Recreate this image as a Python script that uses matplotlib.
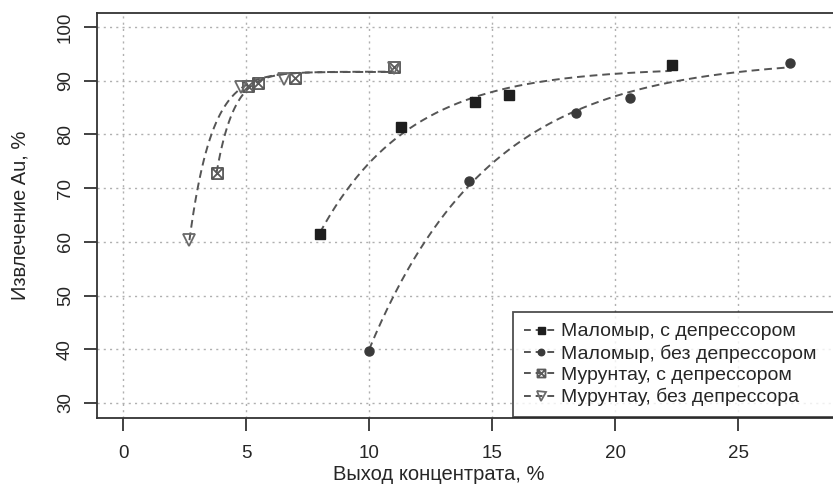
import numpy as np
import matplotlib.pyplot as plt
from matplotlib.path import Path

plt.rcParams['font.family'] = ['Liberation Sans', 'DejaVu Sans']

# данные (выход концентрата, %; извлечение Au, %)
malomyr_dep_x = [8.0, 11.3, 14.3, 15.7, 22.3]
malomyr_dep_y = [61.4, 81.4, 86.0, 87.4, 92.9]
malomyr_nodep_x = [10.0, 14.05, 18.4, 20.6, 27.1]
malomyr_nodep_y = [39.7, 71.3, 84.0, 86.8, 93.3]
muruntau_dep_x = [3.8, 5.1, 5.5, 7.0, 11.0]
muruntau_dep_y = [72.8, 89.0, 89.5, 90.5, 92.5]
muruntau_nodep_x = [2.7, 4.8, 6.55, 11.0]
muruntau_nodep_y = [60.3, 88.8, 90.4, 92.3]

labels = ['Маломыр, с депрессором', 'Маломыр, без депрессором',
          'Мурунтау, с депрессором', 'Мурунтау, без депрессора']


def fit_curve(x, y):
    """подгонка y = a - b*exp(-c*x), возвращает сглаженную кривую"""
    x = np.asarray(x, float)
    y = np.asarray(y, float)
    best = None
    for c in np.linspace(0.02, 3.0, 600):
        A = np.column_stack([np.ones_like(x), -np.exp(-c * x)])
        coef, *_ = np.linalg.lstsq(A, y, rcond=None)
        err = np.sum((A @ coef - y) ** 2)
        if best is None or err < best[0]:
            best = (err, c, coef)
    _, c, (a, b) = best
    xs = np.linspace(x.min(), x.max(), 200)
    return xs, a - b * np.exp(-c * xs)


# квадрат с крестом (как pch=7 в R)
sq_x = Path([(-1, -1), (1, -1), (1, 1), (-1, 1), (-1, -1),
             (-1, -1), (1, 1), (-1, 1), (1, -1)],
            [Path.MOVETO, Path.LINETO, Path.LINETO, Path.LINETO, Path.CLOSEPOLY,
             Path.MOVETO, Path.LINETO, Path.MOVETO, Path.LINETO])

series = [
    (malomyr_dep_x, malomyr_dep_y, dict(marker='s', color='#1e1e1e', mfc='#1e1e1e', ms=7)),
    (malomyr_nodep_x, malomyr_nodep_y, dict(marker='o', color='#3a3a3a', mfc='#3a3a3a', ms=6.5)),
    (muruntau_dep_x, muruntau_dep_y, dict(marker=sq_x, color='#5a5a5a', mfc='none', ms=8, mew=1.3)),
    (muruntau_nodep_x, muruntau_nodep_y, dict(marker='v', color='#6a6a6a', mfc='none', ms=9, mew=1.3)),
]

fig = plt.figure(figsize=(8.33, 4.88), dpi=100)
ax = fig.add_axes([0.1164, 0.1434, 0.8836, 0.83])

line_color = '#555555'
txt_color = '#262626'
handles = []
for (x, y, st), lab in zip(series, labels):
    xs, ys = fit_curve(x, y)
    ax.plot(xs, ys, ls=(0, (4, 2.5)), color=line_color, lw=1.4, zorder=2)
    ax.plot(x, y, ls='none', mec=st['color'], zorder=3,
            **{k: v for k, v in st.items() if k != 'color'})
    h, = ax.plot([], [], ls=(0, (3.5, 2.5)), color=line_color, lw=1.4, mec=st['color'],
                 **{k: v for k, v in st.items() if k not in ('color', 'ms')},
                 ms=st['ms'] * 0.72)
    handles.append(h)

ax.set_xlim(-1.06, 28.86)
ax.set_ylim(27.2, 102.6)
ax.set_xticks([0, 5, 10, 15, 20, 25])
ax.set_yticks(range(30, 101, 10))
ax.grid(True, ls=(0, (1.5, 3)), color='#b0b0b0', lw=1.0)
ax.set_axisbelow(True)

for s in ax.spines.values():
    s.set_color('#333333')
    s.set_linewidth(1.3)
ax.spines['right'].set_visible(False)
ax.tick_params(direction='out', length=9.5, width=1.3, color='#333333',
               labelsize=13.5, labelcolor=txt_color)
ax.tick_params(axis='x', pad=10)
ax.tick_params(axis='y', pad=7)
for lbl in ax.get_yticklabels():
    lbl.set_rotation(90)
    lbl.set_va('center')

ax.set_xlabel('Выход концентрата, %', fontsize=14.5, color=txt_color)
ax.set_ylabel('Извлечение Au, %', fontsize=14.5, color=txt_color)
ax.xaxis.set_label_coords(0.465, -0.116)
ax.yaxis.set_label_coords(-0.092, 0.5)

leg = ax.legend(handles, labels, loc='lower left', fontsize=14, frameon=True,
                fancybox=False, edgecolor='#222222', handlelength=1.8,
                handletextpad=0.1, labelspacing=0.2, borderpad=0.55,
                borderaxespad=0, mode='expand',
                bbox_to_anchor=(513 / 833, 1 - 417 / 488, 0.42, 0.2),
                bbox_transform=fig.transFigure)
leg.get_frame().set_linewidth(1.3)
for t in leg.get_texts():
    t.set_color(txt_color)

fig.savefig('out.png', dpi=100)
